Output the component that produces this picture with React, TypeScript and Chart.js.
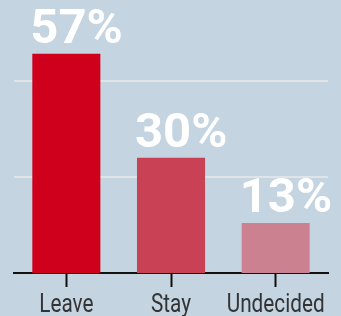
import React, { useEffect, useRef } from "react";
import { Chart, registerables } from "chart.js";

Chart.register(...registerables);

const categories = ["Leave", "Stay", "Undecided"];
const values = [57, 30, 13];
const valueLabels = ["57%", "30%", "13%"];
const barColors = ["#cf001c", "#c84155", "#cc8191"];
const gridValues = [25, 50];

const BG = "#c4d4e0";

const labelPlugin = {
  id: "valueLabels",
  afterDatasetsDraw(chart: any) {
    const { ctx } = chart;
    const meta = chart.getDatasetMeta(0);
    ctx.save();
    ctx.fillStyle = "#ffffff";
    ctx.font = "bold 49px Roboto";
    ctx.textAlign = "left";
    ctx.textBaseline = "alphabetic";
    meta.data.forEach((bar: any, i: number) => {
      const left = bar.x - bar.width / 2;
      ctx.fillText(valueLabels[i], left - 2, bar.y - 11);
    });
    ctx.restore();
  },
  afterDraw(chart: any) {
    const { ctx } = chart;
    const xScale = chart.scales.x;
    ctx.save();
    ctx.fillStyle = "#333333";
    ctx.font = "25px Roboto";
    ctx.textAlign = "center";
    ctx.textBaseline = "alphabetic";
    const sx = 0.83;
    categories.forEach((c, i) => {
      const x = xScale.getPixelForValue(i);
      ctx.save();
      ctx.translate(x, 311.5);
      ctx.scale(sx, 1);
      ctx.fillText(c, 0, 0);
      ctx.restore();
    });
    ctx.restore();
  },
};

export default function App() {
  const ref = useRef<HTMLCanvasElement | null>(null);
  useEffect(() => {
    document.body.style.margin = "0";
    document.body.style.background = BG;
    const chart = new Chart(ref.current!, {
      type: "bar",
      data: {
        labels: categories,
        datasets: [
          {
            data: values,
            backgroundColor: barColors,
            borderWidth: 0,
            categoryPercentage: 1,
            barPercentage: 0.65,
          },
        ],
      },
      options: {
        animation: false,
        responsive: false,
        maintainAspectRatio: false,
        layout: { padding: { left: 14, right: 13, top: 0, bottom: 29 } },
        plugins: { legend: { display: false }, tooltip: { enabled: false } },
        scales: {
          x: {
            offset: true,
            grid: {
              offset: false,
              drawOnChartArea: false,
              drawTicks: true,
              tickLength: 14,
              tickColor: "#111111",
              tickWidth: 2,
            },
            border: { display: true, color: "#111111", width: 2 },
            ticks: { display: false },
          },
          y: {
            min: 0,
            max: 71,
            afterBuildTicks: (scale: any) => {
              scale.ticks = gridValues.map((v) => ({ value: v }));
            },
            ticks: { display: false },
            border: { display: false },
            grid: {
              color: "rgba(235,235,235,0.7)",
              lineWidth: 2,
              drawTicks: false,
            },
          },
        },
      },
      plugins: [labelPlugin],
    });
    return () => chart.destroy();
  }, []);
  return (
    <div style={{ position: "absolute", left: 0, top: 0, width: 341, height: 316, background: BG }}>
      <canvas ref={ref} width={341} height={316} style={{ width: 341, height: 316 }} />
    </div>
  );
}
